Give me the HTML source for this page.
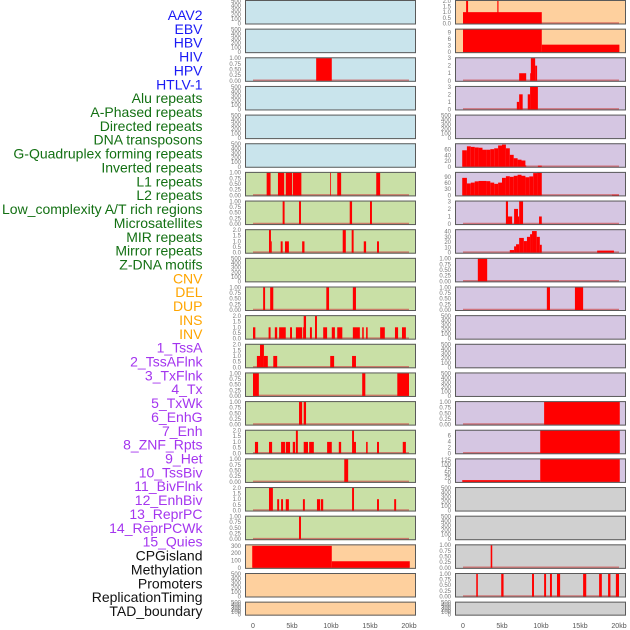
<!DOCTYPE html>
<html><head><meta charset="utf-8">
<style>
html,body{margin:0;padding:0;background:#fff;width:630px;height:630px;overflow:hidden}
svg{display:block;font-family:"Liberation Sans",sans-serif}
</style></head>
<body>
<svg id="chart" width="630" height="630" viewBox="0 0 630 630"></svg>
<script>
// ---- labels ----
const trackLabels = ["AAV2","EBV","HBV","HIV","HPV","HTLV-1","Alu repeats","A-Phased repeats","Directed repeats","DNA transposons","G-Quadruplex forming repeats","Inverted repeats","L1 repeats","L2 repeats","Low_complexity A/T rich regions","Microsatellites","MIR repeats","Mirror repeats","Z-DNA motifs","CNV","DEL","DUP","INS","INV","1_TssA","2_TssAFlnk","3_TxFlnk","4_Tx","5_TxWk","6_EnhG","7_Enh","8_ZNF_Rpts","9_Het","10_TssBiv","11_BivFlnk","12_EnhBiv","13_ReprPC","14_ReprPCWk","15_Quies","CPGisland","Methylation","Promoters","ReplicationTiming","TAD_boundary"];
const labelGroups = [0,0,0,0,0,0,1,1,1,1,1,1,1,1,1,1,1,1,1,2,2,2,2,2,3,3,3,3,3,3,3,3,3,3,3,3,3,3,3,4,4,4,4,4];
const xTickValues = [0,5,10,15,20];
const xTickLabels = ["0","5kb","10kb","15kb","20kb"];

// ---- series: segments [startKb, endKb, value] ----
const L2 = [[8.1,10.1,1]];
const L6 = [[1.75,2.25,1],[3.2,4.0,1],[4.2,5.0,1],[5.1,6.2,1],[9.9,10.0,1],[10.8,11.3,1],[15.8,16.3,1]];
const L7 = [[3.8,4.05,1],[5.9,6.15,1],[12.4,12.7,1],[15.0,15.25,1]];
const L8 = [[2.05,2.3,2],[2.3,2.4,1],[3.55,3.8,1],[4.1,4.6,1],[6.3,6.6,1],[11.5,11.9,2],[12.65,12.9,2],[14.2,14.5,1],[15.9,16.15,1]];
const L10 = [[1.3,1.55,1],[2.2,2.6,1],[9.4,9.75,1],[12.8,13.2,1]];
const L11 = [[0,0.3,1],[2.0,2.25,1],[2.8,3.1,1],[3.35,4.2,1],[4.75,5.0,1],[5.5,6.3,1],[6.4,6.5,1],[6.5,6.8,2],[7.3,7.55,1],[7.95,8.2,2],[9.0,9.5,1],[10.1,10.5,1],[10.8,11.45,1],[12.8,13.7,1],[14.0,14.2,1],[14.5,14.7,1],[16.3,16.9,1],[18.2,18.6,1],[19.1,19.6,1]];
const L12 = [[0.5,0.9,1],[0.9,1.4,2],[1.4,1.9,1],[2.6,3.1,1],[9.9,10.4,1],[12.7,13.2,1]];
const L13 = [[0,0.75,1],[14.0,14.4,1],[18.5,20,1]];
const L14 = [[5.9,6.3,1],[6.5,6.8,1]];
const L15 = [[0.25,0.65,1],[2.05,2.45,1],[3.6,4.1,1],[4.2,4.75,1],[5.1,5.4,1],[5.5,5.75,2],[6.5,7.05,1],[7.2,7.8,1],[9.5,10.1,1],[11.0,11.3,1],[12.7,12.95,2],[12.95,13.2,1],[14.5,14.7,1],[15.9,16.15,1],[19.2,19.6,1]];
const L16 = [[11.7,12.2,1]];
const L17 = [[2.05,2.55,2],[3.1,3.35,1],[3.6,3.85,1],[4.2,4.6,1],[6.4,6.65,1],[8.2,8.6,1],[8.7,9.0,1],[12.7,12.95,2],[15.9,16.15,1],[18.1,18.35,1]];
const L18 = [[5.9,6.15,1]];
const L19 = [[-0.1,10.1,300],[10.1,20.1,90]];

const R0 = [[0,10.1,1],[0.4,0.65,2],[4.4,4.55,2]];
const R1 = [[0,10.1,10.3],[10.1,20.05,3.4]];
const R2 = [[7.2,8.1,1],[8.6,8.7,1],[8.7,9.25,3],[9.25,9.5,2]];
const R3 = [[6.9,7.2,1],[7.2,7.65,2],[8.3,8.6,2],[8.6,9.6,3]];
const R5 = [[-0.1,0.5,58],[0.5,1,72],[1,1.5,70],[1.5,2,68],[2,2.5,67],[2.5,3,60],[3,3.5,60],[3.5,4,62],[4,4.5,65],[4.5,5,75],[5,5.5,78],[5.5,6,65],[6,6.5,42],[6.5,7,30],[7,7.5,25],[7.5,8,22],[8,8.1,5],[9.6,10.1,4]];
const R6 = [[-0.1,0.5,85],[0.5,1,58],[1,1.5,62],[1.5,2,68],[2,2.5,70],[2.5,3,70],[3,3.5,69],[3.5,4,62],[4,4.5,56],[4.5,5,62],[5,5.5,85],[5.5,6,93],[6,6.5,90],[6.5,7,95],[7,7.5,100],[7.5,8,95],[8,8.5,88],[8.5,9,92],[9,9.5,108],[9.5,10.1,110],[19.1,20,3]];
const R7 = [[5.5,5.77,3],[5.77,6.3,1],[6.55,7.05,2],[7.05,7.2,1],[7.2,7.7,3],[9.75,10.1,1]];
const R8 = [[6.0,6.55,5],[6.55,6.8,12],[6.8,7.2,16],[7.2,7.8,28],[7.8,8.2,22],[8.2,8.6,30],[8.6,8.85,35],[8.85,9.45,41],[9.45,9.85,30],[9.85,10.1,15],[17.2,19.35,4]];
const R9 = [[1.9,3.1,1]];
const R10 = [[10.75,11.15,1],[14.35,15.4,1]];
const R14 = [[10.4,20.1,1]];
const R15 = [[9.9,20.1,7.7]];
const R16 = [[-0.1,9.9,10],[9.9,20.1,130]];
const R19 = [[3.55,3.75,1]];
const R20 = [[1.7,1.9,1],[4.9,5.2,1],[8.85,9.1,1],[10.4,10.65,1],[11.15,11.4,1],[12.05,12.45,1],[15.4,15.8,1],[17.45,17.8,1],[18.6,18.9,1],[19.6,20,1]];

// ---- tick sets ----
const tEmpty = [0,100,200,300,400,500];
const t1 = [0,0.25,0.5,0.75,1];
const t2 = [0,0.5,1,1.5,2];
const t3 = [0,1,2,3];

// panel configs: [segments, ymax, ticks, decimals]
const leftPanels = [
 [null,500,tEmpty,0],[null,500,tEmpty,0],[L2,1,t1,2],[null,500,tEmpty,0],[null,500,tEmpty,0],[null,500,tEmpty,0],
 [L6,1,t1,2],[L7,1,t1,2],[L8,2,t2,1],[null,500,tEmpty,0],[L10,1,t1,2],[L11,2,t2,1],[L12,2,t2,1],
 [L13,1,t1,2],[L14,1,t1,2],[L15,2,t2,1],[L16,1,t1,2],[L17,2,t2,1],[L18,1,t1,2],
 [L19,310,[0,100,200,300],0],[null,500,tEmpty,0],[null,500,tEmpty,0]];
const rightPanels = [
 [R0,2,t2,1],[R1,10.3,[0,3,6,9],0],[R2,3,t3,0],[R3,3,t3,0],[null,500,tEmpty,0],[R5,80,[0,20,40,60],0],
 [R6,110,[0,30,60,90],0],[R7,3,t3,0],[R8,43,[0,10,20,30,40],0],[R9,1,t1,2],[R10,1,t1,2],[null,500,tEmpty,0],[null,500,tEmpty,0],
 [null,500,tEmpty,0],[R14,1,t1,2],[R15,7.6,[0,2,4,6],0],[R16,130,[0,25,50,75,100,125],0],
 [null,500,tEmpty,0],[null,500,tEmpty,0],[R19,1,t1,2],[R20,1,t1,2],[null,500,tEmpty,0]];

const leftColors = ["#c9e4ec","#c9e4ec","#c9e4ec","#c9e4ec","#c9e4ec","#c9e4ec","#c9e0a6","#c9e0a6","#c9e0a6","#c9e0a6","#c9e0a6","#c9e0a6","#c9e0a6","#c9e0a6","#c9e0a6","#c9e0a6","#c9e0a6","#c9e0a6","#c9e0a6","#fed09e","#fed09e","#fed09e"];
const rightColors = ["#fed09e","#fed09e","#d5c6e2","#d5c6e2","#d5c6e2","#d5c6e2","#d5c6e2","#d5c6e2","#d5c6e2","#d5c6e2","#d5c6e2","#d5c6e2","#d5c6e2","#d5c6e2","#d5c6e2","#d5c6e2","#d5c6e2","#d0d0d0","#d0d0d0","#d0d0d0","#d0d0d0","#d0d0d0"];
const groupColors = ["#1a1af5","#137013","#ffa500","#a435ef","#111111"];

const NS = "http://www.w3.org/2000/svg";
const svg = document.getElementById("chart");
function mk(tag, attrs, parent){const e=document.createElementNS(NS,tag);for(const k in attrs)e.setAttribute(k,attrs[k]);(parent||svg).appendChild(e);return e;}

// labels
trackLabels.forEach((t,i)=>{
  const e = mk("text",{x:202.5,y:20+i*13.86,"text-anchor":"end","font-size":"14",fill:groupColors[labelGroups[i]]});
  e.textContent=t;
  
  
});

function xScale(colLeft){
  const x0 = colLeft+8, pxPerKb = 7.8;
  return kb => x0 + kb*pxPerKb;
}
function drawColumn(panels, colors, colLeft, side){
  const xs = xScale(colLeft);
  panels.forEach((p,i)=>{
    const top = i*28.65, h = (i===21)?14:24.5, bottom = top+h;
    const g = mk("g",{});
    
    
    mk("rect",{x:colLeft,y:top,width:171,height:h,fill:colors[i]},g);
    const ys = v => bottom-1 - v/p[1]*(h-1.8);
    p[2].forEach(v=>{
      const t = mk("text",{x:colLeft-4,y:ys(v)+2,"text-anchor":"end","font-size":"6",fill:"#777"},g);
      t.textContent = v.toFixed(p[3]);
      
      
    });
    if(p[0]){
      mk("line",{x1:xs(0),x2:xs(20),y1:ys(0)-0.5,y2:ys(0)-0.5,stroke:"rgba(205,70,70,0.65)","stroke-width":"1.6"},g);
      p[0].forEach(s=>{
        const r = mk("rect",{x:xs(s[0]),y:ys(s[2]),width:Math.max(0.8,xs(s[1])-xs(s[0])),height:ys(0)-ys(s[2]),fill:"#ff0000"},g);
        
        
      });
    }
    mk("rect",{x:colLeft+0.5,y:top+0.5,width:170,height:h-1,fill:"none",stroke:"#5a5a5a","stroke-width":"1"},g);
  });
  xTickValues.forEach((v,j)=>{
    const t = mk("text",{x:xs(v),y:628,"text-anchor":"middle","font-size":"7",fill:"#555"});
    t.textContent = xTickLabels[j];
    
    
  });
}
drawColumn(leftPanels, leftColors, 245, "left");
drawColumn(rightPanels, rightColors, 455, "right");
</script>
</body></html>
